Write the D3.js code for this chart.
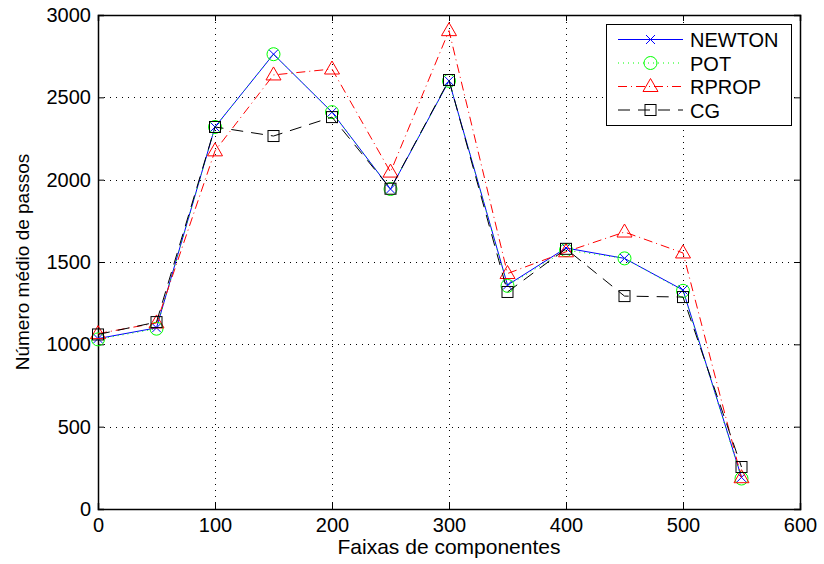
<!DOCTYPE html>
<html>
<head>
<meta charset="utf-8">
<script src="https://cdn.jsdelivr.net/npm/d3@7"></script>
<style>
  html, body { margin: 0; padding: 0; background: #fff; }
  svg { display: block; }
  text { font-family: "Liberation Sans", Arial, Helvetica, sans-serif; }
</style>
</head>
<body>
<svg id="chart" width="824" height="564"></svg>
<script>
// Average number of steps per component range, for each training method
const faixas = [0, 50, 100, 150, 200, 250, 300, 350, 400, 450, 500, 550];
const newton = [1035, 1100, 2320, 2762, 2410, 1943, 2600, 1360, 1585, 1522, 1330, 192];
const pot    = [1030, 1095, 2320, 2762, 2410, 1943, 2600, 1355, 1572, 1522, 1325, 185];
const rprop  = [1065, 1130, 2175, 2636, 2672, 2046, 2905, 1430, 1562, 1682, 1555, 190];
const cg     = [1060, 1135, 2320, 2265, 2380, 1945, 2605, 1318, 1580, 1293, 1287, 255];
const xTicks = [0, 100, 200, 300, 400, 500, 600];
const yTicks = [0, 500, 1000, 1500, 2000, 2500, 3000];

const series = [
  { name: "NEWTON", values: newton, color: "#0000ff", dash: null,        marker: "x" },
  { name: "POT",    values: pot,    color: "#00ff00", dash: "1,4",       marker: "circle" },
  { name: "RPROP",  values: rprop,  color: "#ff0000", dash: "9,4,1,4",   marker: "triangle" },
  { name: "CG",     values: cg,     color: "#000000", dash: "12,8",      marker: "square" }
];

const svg = d3.select("#chart");
const m = { left: 98, right: 24, top: 15, bottom: 55 };
const W = 824, H = 564;
const pw = W - m.left - m.right, ph = H - m.top - m.bottom;

const x = d3.scaleLinear().domain([0, 600]).range([m.left, m.left + pw]);
const y = d3.scaleLinear().domain([0, 3000]).range([m.top + ph, m.top]);

// dotted grid
const grid = svg.append("g").attr("stroke", "#000").attr("stroke-width", 1)
  .attr("stroke-dasharray", "1,5").attr("shape-rendering", "crispEdges");
xTicks.slice(1, -1).forEach(t => {
  grid.append("line").attr("x1", Math.round(x(t)) + 0.5).attr("x2", Math.round(x(t)) + 0.5)
    .attr("y1", y(0)).attr("y2", y(3000));
});
yTicks.slice(1, -1).forEach(t => {
  grid.append("line").attr("y1", Math.round(y(t)) + 0.5).attr("y2", Math.round(y(t)) + 0.5)
    .attr("x1", x(0)).attr("x2", x(600));
});

// axes with inward ticks
const axB = svg.append("g").attr("transform", `translate(0,${y(0)})`)
  .call(d3.axisBottom(x).tickValues(xTicks).tickSize(-6).tickPadding(9).tickFormat(d3.format("d")));
const axT = svg.append("g").attr("transform", `translate(0,${y(3000)})`)
  .call(d3.axisTop(x).tickValues(xTicks).tickSize(-6).tickFormat(""));
const axL = svg.append("g").attr("transform", `translate(${x(0)},0)`)
  .call(d3.axisLeft(y).tickValues(yTicks).tickSize(-6).tickPadding(7).tickFormat(d3.format("d")));
const axR = svg.append("g").attr("transform", `translate(${x(600)},0)`)
  .call(d3.axisRight(y).tickValues(yTicks).tickSize(-6).tickFormat(""));
[axB, axT, axL, axR].forEach(a => {
  a.select(".domain").attr("stroke", "#000").attr("stroke-width", 1.5);
  a.selectAll(".tick line").attr("stroke", "#000").attr("stroke-width", 1);
  a.selectAll("text").attr("font-size", 20).attr("fill", "#000")
    .style("font-family", "'Liberation Sans', Arial, sans-serif");
});
axB.selectAll("text").attr("dy", "0.71em");

// axis titles
svg.append("text").attr("x", x(300)).attr("y", 554).attr("text-anchor", "middle")
  .attr("font-size", 21).text("Faixas de componentes");
svg.append("text").attr("transform", `translate(29,${y(1500)}) rotate(-90)`)
  .attr("text-anchor", "middle").attr("font-size", 19).text("Número médio de passos");

function drawMarker(g, type, cx, cy, color) {
  if (type === "x") {
    const s = 4.5;
    g.append("path").attr("d", `M${cx - s},${cy - s}L${cx + s},${cy + s}M${cx - s},${cy + s}L${cx + s},${cy - s}`)
      .attr("stroke", color).attr("stroke-width", 1).attr("fill", "none");
  } else if (type === "circle") {
    g.append("circle").attr("cx", cx).attr("cy", cy).attr("r", 6.5)
      .attr("stroke", color).attr("stroke-width", 1).attr("fill", "none");
  } else if (type === "triangle") {
    g.append("path").attr("d", `M${cx},${cy - 8}L${cx + 7.5},${cy + 5}L${cx - 7.5},${cy + 5}Z`)
      .attr("stroke", color).attr("stroke-width", 1).attr("fill", "none");
  } else if (type === "square") {
    g.append("rect").attr("x", cx - 5.5).attr("y", cy - 5.5).attr("width", 11).attr("height", 11)
      .attr("stroke", color).attr("stroke-width", 1).attr("fill", "none");
  }
}

const line = d3.line().x((d, i) => x(faixas[i])).y(d => y(d));

series.forEach(s => {
  const g = svg.append("g");
  g.append("path").datum(s.values).attr("d", line)
    .attr("fill", "none").attr("stroke", s.color).attr("stroke-width", 1)
    .attr("stroke-dasharray", s.dash);
  s.values.forEach((v, i) => drawMarker(g, s.marker, x(faixas[i]), y(v), s.color));
});

// legend
const lg = svg.append("g");
lg.append("rect").attr("x", 606.5).attr("y", 24.5).attr("width", 185).attr("height", 101)
  .attr("fill", "#fff").attr("stroke", "#000").attr("stroke-width", 1);
series.forEach((s, i) => {
  const ly = 39.5 + i * 23.5;
  lg.append("line").attr("x1", 618).attr("x2", 683).attr("y1", ly).attr("y2", ly)
    .attr("stroke", s.color).attr("stroke-width", 1).attr("stroke-dasharray", s.dash);
  drawMarker(lg, s.marker, 650.5, ly, s.color);
  lg.append("text").attr("x", 690).attr("y", ly + 7.5)
    .attr("font-size", 20).text(s.name);
});
</script>
</body>
</html>
